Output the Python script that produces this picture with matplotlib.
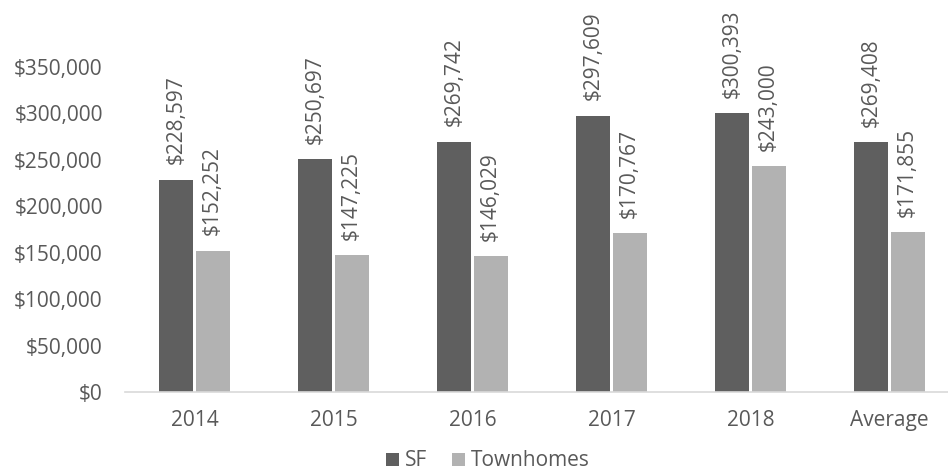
import matplotlib
matplotlib.use("Agg")
import matplotlib.pyplot as plt
import numpy as np

categories = ["2014", "2015", "2016", "2017", "2018", "Average"]
sf_values = [228597, 250697, 269742, 297609, 300393, 269408]
th_values = [152252, 147225, 146029, 170767, 243000, 171855]
series_names = ["SF", "Townhomes"]
yticks = [0, 50000, 100000, 150000, 200000, 250000, 300000, 350000]

plt.rcParams['font.family'] = ['Open Sans', 'DejaVu Sans']
txt = '#595959'
c_sf = '#5f5f5f'
c_th = '#b2b2b2'
fs = 15

W, H = 948, 474
fig = plt.figure(figsize=(W/100, H/100), dpi=100)
left = 125 / W
bottom = (H - 392) / H
top = (H - 67) / H
ax = fig.add_axes([left, bottom, 1 - left, top - bottom])

x = np.arange(len(categories))
bw = 0.245
off = 0.13
b1 = ax.bar(x - off, sf_values, bw, color=c_sf, label=series_names[0], zorder=2)
b2 = ax.bar(x + off, th_values, bw, color=c_th, label=series_names[1], zorder=2)

for bars, vals in ((b1, sf_values), (b2, th_values)):
    for b, v in zip(bars, vals):
        ax.annotate(f"${v:,.0f}", (b.get_x() + b.get_width()/2, v),
                    xytext=(0, 11), textcoords='offset points',
                    rotation=90, ha='center', va='bottom',
                    fontsize=fs, color=txt, annotation_clip=False)

ax.set_xlim(-0.5, -0.5 + (W - 125) / 139)
ax.set_ylim(0, 350000)
ax.set_yticks(yticks)
ax.set_yticklabels([f"${v:,.0f}" for v in yticks])
ax.set_xticks(x)
ax.set_xticklabels(categories)
ax.tick_params(axis='both', length=0, labelsize=fs, labelcolor=txt)
ax.tick_params(axis='y', pad=16)
ax.tick_params(axis='x', pad=13)
for s in ['top', 'right', 'left']:
    ax.spines[s].set_visible(False)
ax.spines['bottom'].set_color('#d9d9d9')
ax.spines['bottom'].set_linewidth(1.2)

fig.legend(handles=[b1, b2], loc='center', bbox_to_anchor=(488/W, 1 - 461/H),
           ncol=2, frameon=False, fontsize=fs, labelcolor=txt,
           handlelength=0.6, handleheight=0.6, handletextpad=0.3, columnspacing=1.2)

fig.savefig("out.png", dpi=100)
